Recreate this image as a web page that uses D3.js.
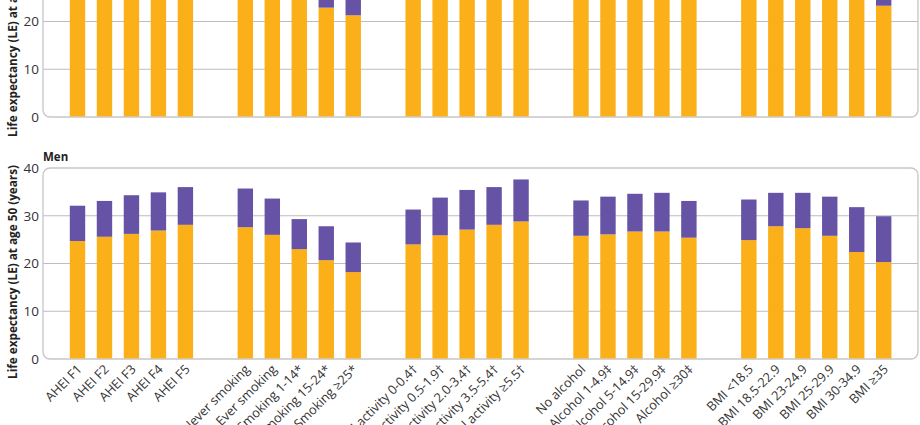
<!DOCTYPE html>
<html>
<head>
<meta charset="utf-8">
<script src="https://cdn.jsdelivr.net/npm/d3@7"></script>
<style>
  html, body { margin: 0; padding: 0; background: #fff; }
  svg { display: block; }
  text { font-family: "Open Sans", "Noto Sans", sans-serif; }
</style>
</head>
<body>
<svg id="chart" width="920" height="425"></svg>
<script>
// ---- data ----
const groups = [
  ["AHEI F1", "AHEI F2", "AHEI F3", "AHEI F4", "AHEI F5"],
  ["Never smoking", "Ever smoking", "Smoking 1-14*", "Smoking 15-24*", "Smoking ≥25*"],
  ["Physical activity 0-0.4†", "Physical activity 0.5-1.9†", "Physical activity 2.0-3.4†", "Physical activity 3.5-5.4†", "Physical activity ≥5.5†"],
  ["No alcohol", "Alcohol 1-4.9‡", "Alcohol 5-14.9‡", "Alcohol 15-29.9‡", "Alcohol ≥30‡"],
  ["BMI <18.5", "BMI 18.5-22.9", "BMI 23-24.9", "BMI 25-29.9", "BMI 30-34.9", "BMI ≥35"]
];
// Women (top panel, mostly cropped): LE free of disease, total LE
const womenFree  = [26.5, 27.5, 28.3, 29.0, 30.0,  29.8, 28.3, 25.5, 22.9, 21.3,  26.0, 28.0, 29.0, 29.8, 30.5,  27.0, 28.5, 29.0, 28.5, 27.0,  26.0, 29.5, 29.0, 27.5, 25.5, 23.3];
const womenTotal = [33.5, 34.5, 35.3, 36.0, 37.0,  37.5, 35.5, 32.0, 29.5, 27.5,  33.5, 35.3, 36.5, 37.0, 37.8,  34.5, 35.8, 36.3, 35.8, 34.3,  34.5, 36.5, 36.3, 35.0, 33.5, 31.5];
// Men (bottom panel)
const menFree  = [24.7, 25.6, 26.2, 26.9, 28.1,  27.6, 26.0, 23.0, 20.7, 18.2,  24.0, 25.9, 27.1, 28.1, 28.8,  25.8, 26.1, 26.7, 26.7, 25.4,  24.9, 27.8, 27.4, 25.8, 22.4, 20.3];
const menTotal = [32.1, 33.1, 34.3, 34.9, 36.0,  35.7, 33.6, 29.3, 27.8, 24.4,  31.3, 33.8, 35.4, 36.0, 37.6,  33.2, 34.0, 34.6, 34.8, 33.1,  33.4, 34.8, 34.8, 34.0, 31.8, 29.9];
const yTicks = [0, 10, 20, 30, 40];
const panelTitles = ["Women", "Men"];
const yAxisTitle = "Life expectancy (LE) at age 50 (years)";

// ---- layout ----
const colFree = "#FBAF19", colDis = "#6753A5";
const gridCol = "#bdbdbd", borderCol = "#c6c6c6";
const left = 43, right = 918;
const groupGap = 60 / 27; // units between groups
const cats = [];
groups.forEach((g, gi) => g.forEach((c, ci) => cats.push({name: c, gi, ci})));
let pos = 0;
cats.forEach((c, i) => {
  if (i > 0) pos += (c.gi !== cats[i - 1].gi) ? groupGap : 1;
  c.pos = pos;
});
const x = d3.scaleLinear().domain([0, pos]).range([77.5, 883.7]);
const barW = 15.4;

const svg = d3.select("#chart");

function panel(zeroY, title, free, total, showLabels) {
  const y = d3.scaleLinear().domain([0, 40]).range([zeroY, zeroY - 191]);
  const g = svg.append("g");
  // gridlines
  g.selectAll("line.grid").data(yTicks.filter(t => t > 0 && t < 40)).join("line")
    .attr("x1", left).attr("x2", right)
    .attr("y1", d => y(d)).attr("y2", d => y(d))
    .attr("stroke", gridCol).attr("stroke-width", 1);
  // panel border
  g.append("rect").attr("x", left).attr("y", y(40)).attr("width", right - left).attr("height", y(0) - y(40))
    .attr("rx", 7).attr("ry", 7).attr("fill", "none").attr("stroke", borderCol).attr("stroke-width", 1.3);
  // bars
  const data = cats.map((c, i) => ({c, free: free[i], total: total[i]}));
  g.selectAll("rect.free").data(data).join("rect")
    .attr("x", d => x(d.c.pos) - barW / 2).attr("width", barW)
    .attr("y", d => y(d.free)).attr("height", d => y(0) - y(d.free) - 0.6)
    .attr("fill", colFree);
  g.selectAll("rect.dis").data(data).join("rect")
    .attr("x", d => x(d.c.pos) - barW / 2).attr("width", barW)
    .attr("y", d => y(d.total)).attr("height", d => y(d.free) - y(d.total))
    .attr("fill", colDis);
  // tick labels (only those inside the visible page)
  g.selectAll("text.tick").data(yTicks.filter(t => y(t) > 5)).join("text")
    .attr("x", 39).attr("y", d => y(d)).attr("dy", "0.36em")
    .attr("text-anchor", "end").attr("font-size", 13.5).attr("fill", "#333")
    .text(d => d);
  // panel title
  g.append("text").attr("x", left).attr("y", y(40) - 7)
    .attr("font-size", 11.5).attr("font-weight", "bold").attr("fill", "#222").text(title);
  // y axis title
  g.append("text").attr("transform", `translate(12.5,${zeroY - 87}) rotate(-90)`)
    .attr("text-anchor", "middle").attr("dy", "0.35em")
    .attr("font-size", 11.5).attr("font-weight", "bold").attr("fill", "#222")
    .attr("textLength", 214).attr("lengthAdjust", "spacingAndGlyphs")
    .text(yAxisTitle);
  if (showLabels) {
    g.selectAll("text.xl").data(cats).join("text")
      .attr("transform", d => `translate(${x(d.pos) + 2},${zeroY + 8}) rotate(-45)`)
      .attr("text-anchor", "end").attr("dy", "0.35em")
      .attr("font-size", 12.8).attr("fill", "#333")
      .text(d => d.name);
  }
}
panel(117, panelTitles[0], womenFree, womenTotal, false);
panel(359, panelTitles[1], menFree, menTotal, true);
</script>
</body>
</html>
